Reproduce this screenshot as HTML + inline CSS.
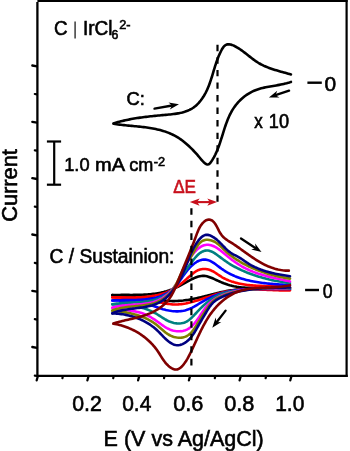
<!DOCTYPE html>
<html><head><meta charset="utf-8"><style>
html,body{margin:0;padding:0;background:#fff;}
body{width:350px;height:451px;overflow:hidden;}
svg{display:block;filter:blur(0.35px);}
text{font-family:"Liberation Sans",sans-serif;stroke-width:0.6px;}
</style></head><body>
<svg width="350" height="451" viewBox="0 0 350 451">
<line x1="37.4" y1="2" x2="37.4" y2="377" stroke="#000" stroke-width="2.3"/>
<line x1="37.4" y1="1" x2="347.6" y2="1" stroke="#000" stroke-width="2.2"/>
<line x1="346.6" y1="0" x2="346.6" y2="377" stroke="#000" stroke-width="2.2"/>
<line x1="36.3" y1="375.9" x2="347.7" y2="375.9" stroke="#000" stroke-width="2.2"/>
<line x1="37" y1="66.4" x2="32.3" y2="65.5" stroke="#000" stroke-width="2.3" stroke-linecap="round"/>
<line x1="37" y1="122.7" x2="32.3" y2="121.8" stroke="#000" stroke-width="2.3" stroke-linecap="round"/>
<line x1="37" y1="179.0" x2="32.3" y2="178.1" stroke="#000" stroke-width="2.3" stroke-linecap="round"/>
<line x1="37" y1="235.4" x2="32.3" y2="234.5" stroke="#000" stroke-width="2.3" stroke-linecap="round"/>
<line x1="37" y1="291.7" x2="32.3" y2="290.8" stroke="#000" stroke-width="2.3" stroke-linecap="round"/>
<line x1="37" y1="347.9" x2="32.3" y2="347.0" stroke="#000" stroke-width="2.3" stroke-linecap="round"/>
<line x1="37" y1="94.4" x2="34.8" y2="94.0" stroke="#000" stroke-width="2.2" stroke-linecap="round"/>
<line x1="37" y1="150.7" x2="34.8" y2="150.3" stroke="#000" stroke-width="2.2" stroke-linecap="round"/>
<line x1="37" y1="207.0" x2="34.8" y2="206.6" stroke="#000" stroke-width="2.2" stroke-linecap="round"/>
<line x1="37" y1="263.3" x2="34.8" y2="262.9" stroke="#000" stroke-width="2.2" stroke-linecap="round"/>
<line x1="37" y1="319.6" x2="34.8" y2="319.2" stroke="#000" stroke-width="2.2" stroke-linecap="round"/>
<line x1="37" y1="376.0" x2="34.8" y2="375.6" stroke="#000" stroke-width="2.2" stroke-linecap="round"/>
<line x1="37.9" y1="376" x2="36.7" y2="380.3" stroke="#000" stroke-width="2.3" stroke-linecap="round"/>
<line x1="88.6" y1="376" x2="87.4" y2="380.3" stroke="#000" stroke-width="2.3" stroke-linecap="round"/>
<line x1="139.3" y1="376" x2="138.1" y2="380.3" stroke="#000" stroke-width="2.3" stroke-linecap="round"/>
<line x1="190.1" y1="376" x2="188.9" y2="380.3" stroke="#000" stroke-width="2.3" stroke-linecap="round"/>
<line x1="240.8" y1="376" x2="239.6" y2="380.3" stroke="#000" stroke-width="2.3" stroke-linecap="round"/>
<line x1="291.5" y1="376" x2="290.3" y2="380.3" stroke="#000" stroke-width="2.3" stroke-linecap="round"/>
<line x1="62.9" y1="376" x2="62.4" y2="378.2" stroke="#000" stroke-width="2.2" stroke-linecap="round"/>
<line x1="113.7" y1="376" x2="113.2" y2="378.2" stroke="#000" stroke-width="2.2" stroke-linecap="round"/>
<line x1="164.5" y1="376" x2="164.0" y2="378.2" stroke="#000" stroke-width="2.2" stroke-linecap="round"/>
<line x1="215.3" y1="376" x2="214.8" y2="378.2" stroke="#000" stroke-width="2.2" stroke-linecap="round"/>
<line x1="266.1" y1="376" x2="265.6" y2="378.2" stroke="#000" stroke-width="2.2" stroke-linecap="round"/>
<line x1="217.5" y1="44.8" x2="217.5" y2="201.8" stroke="#000" stroke-width="2.2" stroke-dasharray="6.4 6.15"/>
<path d="M113.48,123.39 L114.96,122.94 L116.45,122.51 L117.93,122.10 L119.41,121.70 L120.89,121.32 L122.36,120.96 L123.84,120.61 L125.31,120.28 L126.78,119.96 L128.25,119.65 L129.72,119.36 L131.19,119.08 L132.66,118.81 L134.13,118.55 L135.60,118.31 L137.08,118.07 L138.55,117.85 L140.02,117.63 L141.50,117.42 L142.98,117.22 L144.46,117.03 L145.95,116.84 L147.43,116.67 L148.92,116.49 L150.42,116.33 L151.92,116.17 L153.42,116.01 L154.93,115.86 L156.44,115.71 L157.96,115.56 L159.48,115.42 L161.01,115.28 L162.54,115.14 L164.08,115.00 L165.63,114.86 L167.18,114.72 L168.74,114.57 L170.29,114.42 L171.85,114.25 L173.40,114.07 L174.94,113.87 L176.47,113.64 L177.99,113.38 L179.50,113.10 L180.99,112.78 L182.46,112.42 L183.91,112.02 L185.34,111.57 L186.73,111.07 L188.10,110.52 L189.44,109.92 L190.74,109.25 L192.00,108.52 L193.23,107.72 L194.42,106.86 L195.56,105.93 L196.67,104.95 L197.74,103.92 L198.77,102.84 L199.76,101.71 L200.71,100.54 L201.62,99.33 L202.49,98.09 L203.33,96.82 L204.13,95.52 L204.88,94.20 L205.61,92.86 L206.29,91.50 L206.95,90.12 L207.57,88.73 L208.17,87.32 L208.74,85.90 L209.28,84.48 L209.81,83.04 L210.31,81.59 L210.80,80.15 L211.27,78.69 L211.74,77.24 L212.19,75.78 L212.63,74.32 L213.07,72.87 L213.50,71.42 L213.94,69.98 L214.37,68.54 L214.81,67.11 L215.25,65.70 L215.70,64.29 L216.16,62.89 L216.64,61.49 L217.15,60.09 L217.68,58.69 L218.23,57.27 L218.82,55.85 L219.45,54.41 L220.13,52.95 L220.84,51.48 L221.61,49.98 L222.44,48.51 L223.34,47.16 L224.32,46.02 L225.39,45.16 L226.55,44.61 L227.78,44.34 L229.07,44.31 L230.41,44.50 L231.78,44.87 L233.18,45.39 L234.58,46.03 L235.97,46.77 L237.34,47.57 L238.68,48.40 L239.98,49.26 L241.26,50.14 L242.51,51.05 L243.75,51.96 L244.96,52.89 L246.17,53.83 L247.36,54.77 L248.54,55.71 L249.73,56.64 L250.91,57.57 L252.10,58.48 L253.29,59.38 L254.50,60.26 L255.72,61.12 L256.96,61.95 L258.22,62.75 L259.51,63.51 L260.82,64.24 L262.16,64.93 L263.52,65.59 L264.91,66.21 L266.31,66.81 L267.73,67.38 L269.16,67.93 L270.60,68.45 L272.06,68.95 L273.52,69.44 L274.99,69.90 L276.47,70.35 L277.94,70.79 L279.42,71.21 L280.89,71.63 L282.36,72.04 L283.82,72.44 L285.28,72.84 L286.72,73.24 L288.15,73.64 L289.56,74.04 L290.96,74.44" fill="none" stroke="#000" stroke-width="2.6" stroke-linecap="round" stroke-linejoin="round"/>
<path d="M290.95,81.90 L289.55,82.39 L288.13,82.83 L286.69,83.24 L285.23,83.61 L283.76,83.96 L282.28,84.29 L280.79,84.59 L279.29,84.88 L277.78,85.15 L276.26,85.41 L274.75,85.67 L273.22,85.93 L271.70,86.19 L270.18,86.45 L268.67,86.72 L267.15,87.01 L265.65,87.31 L264.15,87.63 L262.66,87.98 L261.19,88.35 L259.72,88.76 L258.28,89.20 L256.85,89.68 L255.43,90.21 L254.04,90.78 L252.67,91.40 L251.32,92.06 L250.00,92.78 L248.70,93.54 L247.43,94.34 L246.18,95.19 L244.96,96.07 L243.77,97.00 L242.61,97.96 L241.48,98.96 L240.38,100.00 L239.31,101.07 L238.27,102.17 L237.27,103.31 L236.31,104.47 L235.38,105.66 L234.49,106.88 L233.63,108.13 L232.82,109.39 L232.04,110.68 L231.30,111.99 L230.59,113.33 L229.91,114.68 L229.26,116.04 L228.64,117.43 L228.05,118.82 L227.47,120.23 L226.92,121.66 L226.39,123.09 L225.87,124.54 L225.37,125.99 L224.88,127.45 L224.40,128.91 L223.93,130.38 L223.47,131.85 L223.01,133.32 L222.55,134.80 L222.09,136.27 L221.63,137.74 L221.17,139.21 L220.70,140.67 L220.23,142.13 L219.74,143.58 L219.24,145.02 L218.73,146.45 L218.20,147.87 L217.65,149.27 L217.08,150.67 L216.49,152.04 L215.87,153.41 L215.23,154.75 L214.56,156.07 L213.86,157.38 L213.12,158.66 L212.35,159.92 L211.54,161.15 L210.70,162.36 L209.80,163.50 L208.79,164.31 L207.60,164.53 L206.30,164.16 L204.98,163.35 L203.70,162.23 L202.47,160.92 L201.30,159.54 L200.20,158.21 L199.16,156.97 L198.18,155.81 L197.23,154.72 L196.28,153.65 L195.33,152.61 L194.36,151.55 L193.36,150.50 L192.33,149.43 L191.27,148.37 L190.19,147.31 L189.08,146.26 L187.95,145.22 L186.80,144.19 L185.62,143.18 L184.43,142.19 L183.21,141.22 L181.98,140.28 L180.72,139.37 L179.45,138.50 L178.16,137.66 L176.86,136.87 L175.54,136.11 L174.21,135.40 L172.86,134.72 L171.50,134.08 L170.12,133.47 L168.73,132.90 L167.33,132.36 L165.92,131.85 L164.50,131.38 L163.07,130.93 L161.62,130.51 L160.17,130.11 L158.71,129.74 L157.24,129.40 L155.77,129.08 L154.28,128.77 L152.80,128.49 L151.30,128.23 L149.80,127.98 L148.29,127.75 L146.79,127.53 L145.27,127.33 L143.76,127.14 L142.24,126.96 L140.72,126.79 L139.19,126.62 L137.67,126.47 L136.15,126.32 L134.62,126.17 L133.10,126.02 L131.58,125.88 L130.06,125.74 L128.54,125.59 L127.03,125.45 L125.52,125.30 L124.01,125.14 L122.51,124.98 L121.02,124.81 L119.53,124.63 L118.04,124.44 L116.56,124.24 L115.09,124.03 L113.63,123.80" fill="none" stroke="#000" stroke-width="2.6" stroke-linecap="round" stroke-linejoin="round"/>
<path d="M112.30,295.09 L113.81,295.04 L115.32,295.00 L116.83,294.97 L118.34,294.94 L119.86,294.93 L121.38,294.92 L122.90,294.91 L124.42,294.91 L125.94,294.92 L127.46,294.92 L128.98,294.92 L130.50,294.93 L132.03,294.93 L133.55,294.92 L135.07,294.91 L136.59,294.90 L138.11,294.87 L139.63,294.84 L141.15,294.79 L142.67,294.74 L144.19,294.67 L145.70,294.58 L147.22,294.49 L148.73,294.37 L150.24,294.23 L151.74,294.08 L153.25,293.90 L154.75,293.71 L156.24,293.49 L157.74,293.24 L159.23,292.97 L160.72,292.67 L162.20,292.34 L163.67,291.99 L165.14,291.60 L166.60,291.19 L168.04,290.74 L169.48,290.27 L170.91,289.76 L172.32,289.22 L173.72,288.64 L175.11,288.03 L176.49,287.40 L177.86,286.74 L179.22,286.06 L180.57,285.35 L181.92,284.64 L183.27,283.90 L184.62,283.17 L185.97,282.42 L187.33,281.67 L188.69,280.92 L190.06,280.18 L191.44,279.45 L192.82,278.75 L194.21,278.10 L195.61,277.50 L197.01,276.98 L198.41,276.53 L199.82,276.19 L201.23,275.96 L202.64,275.86 L204.05,275.89 L205.47,276.05 L206.88,276.34 L208.29,276.72 L209.70,277.18 L211.12,277.72 L212.53,278.30 L213.94,278.93 L215.36,279.58 L216.77,280.23 L218.18,280.88 L219.59,281.50 L221.00,282.10 L222.42,282.68 L223.83,283.24 L225.25,283.76 L226.68,284.26 L228.11,284.73 L229.54,285.16 L230.99,285.55 L232.44,285.91 L233.90,286.24 L235.37,286.52 L236.85,286.78 L238.33,287.00 L239.82,287.19 L241.32,287.36 L242.82,287.49 L244.33,287.61 L245.84,287.70 L247.36,287.77 L248.88,287.81 L250.40,287.85 L251.93,287.86 L253.47,287.86 L255.00,287.85 L256.54,287.83 L258.07,287.80 L259.61,287.76 L261.15,287.71 L262.69,287.66 L264.23,287.61 L265.77,287.56 L267.31,287.51 L268.85,287.46 L270.38,287.42 L271.92,287.38 L273.45,287.35 L274.97,287.34 L276.50,287.33 L278.02,287.34 L279.53,287.36 L281.04,287.40 L282.55,287.46 L284.05,287.53 L285.54,287.63 L287.03,287.76 L288.50,287.91 L289.98,288.08" fill="none" stroke="#000000" stroke-width="2.6" stroke-linecap="round" stroke-linejoin="round"/>
<path d="M289.99,289.77 L288.49,289.79 L286.98,289.79 L285.47,289.78 L283.96,289.77 L282.44,289.75 L280.92,289.72 L279.41,289.69 L277.89,289.65 L276.37,289.61 L274.84,289.56 L273.32,289.52 L271.79,289.47 L270.27,289.41 L268.74,289.36 L267.22,289.31 L265.69,289.26 L264.16,289.22 L262.63,289.17 L261.10,289.13 L259.58,289.10 L258.05,289.07 L256.52,289.04 L254.99,289.03 L253.47,289.02 L251.94,289.02 L250.42,289.03 L248.89,289.05 L247.37,289.08 L245.85,289.12 L244.33,289.18 L242.81,289.24 L241.30,289.33 L239.78,289.43 L238.27,289.54 L236.76,289.67 L235.25,289.82 L233.75,289.99 L232.24,290.18 L230.74,290.39 L229.25,290.61 L227.75,290.86 L226.26,291.13 L224.77,291.42 L223.28,291.72 L221.80,292.03 L220.32,292.36 L218.83,292.70 L217.35,293.05 L215.88,293.41 L214.40,293.78 L212.92,294.15 L211.44,294.53 L209.97,294.90 L208.49,295.28 L207.01,295.66 L205.54,296.04 L204.06,296.42 L202.58,296.79 L201.10,297.15 L199.62,297.51 L198.14,297.86 L196.66,298.19 L195.17,298.52 L193.68,298.83 L192.19,299.12 L190.70,299.40 L189.21,299.66 L187.71,299.91 L186.21,300.13 L184.72,300.33 L183.21,300.52 L181.71,300.67 L180.21,300.81 L178.71,300.92 L177.20,301.01 L175.70,301.06 L174.19,301.10 L172.69,301.10 L171.19,301.07 L169.68,301.01 L168.18,300.93 L166.68,300.80 L165.18,300.65 L163.68,300.46 L162.18,300.24 L160.69,299.98 L159.19,299.70 L157.70,299.39 L156.20,299.07 L154.71,298.75 L153.21,298.42 L151.72,298.09 L150.22,297.77 L148.72,297.47 L147.22,297.19 L145.72,296.94 L144.21,296.72 L142.70,296.53 L141.19,296.38 L139.67,296.25 L138.16,296.15 L136.64,296.07 L135.11,296.01 L133.59,295.96 L132.07,295.93 L130.54,295.91 L129.02,295.89 L127.49,295.87 L125.97,295.85 L124.44,295.83 L122.92,295.80 L121.40,295.76 L119.87,295.71 L118.35,295.64 L116.84,295.55 L115.32,295.44 L113.81,295.30 L112.30,295.13" fill="none" stroke="#000000" stroke-width="2.6" stroke-linecap="round" stroke-linejoin="round"/>
<path d="M112.33,297.31 L113.79,297.32 L115.26,297.33 L116.74,297.35 L118.23,297.36 L119.73,297.39 L121.24,297.41 L122.75,297.43 L124.27,297.45 L125.79,297.46 L127.32,297.48 L128.85,297.49 L130.38,297.49 L131.92,297.48 L133.45,297.46 L134.99,297.44 L136.53,297.40 L138.07,297.35 L139.60,297.29 L141.14,297.21 L142.67,297.11 L144.19,297.00 L145.72,296.87 L147.24,296.72 L148.75,296.55 L150.25,296.35 L151.75,296.14 L153.25,295.89 L154.73,295.63 L156.20,295.33 L157.66,295.01 L159.12,294.65 L160.56,294.27 L161.99,293.85 L163.40,293.40 L164.81,292.92 L166.20,292.40 L167.57,291.84 L168.93,291.25 L170.27,290.61 L171.59,289.94 L172.90,289.22 L174.19,288.46 L175.46,287.66 L176.71,286.83 L177.95,285.96 L179.18,285.05 L180.40,284.12 L181.61,283.17 L182.82,282.19 L184.02,281.19 L185.21,280.17 L186.40,279.14 L187.59,278.09 L188.78,277.04 L189.98,275.98 L191.18,274.93 L192.39,273.92 L193.61,272.95 L194.85,272.05 L196.11,271.23 L197.40,270.52 L198.71,269.93 L200.05,269.47 L201.42,269.17 L202.81,269.00 L204.22,268.96 L205.64,269.05 L207.06,269.26 L208.48,269.59 L209.88,270.03 L211.27,270.57 L212.64,271.21 L213.97,271.94 L215.29,272.74 L216.59,273.59 L217.89,274.46 L219.18,275.34 L220.48,276.19 L221.79,277.01 L223.12,277.78 L224.46,278.49 L225.83,279.16 L227.20,279.78 L228.59,280.36 L229.99,280.89 L231.40,281.40 L232.83,281.86 L234.26,282.30 L235.70,282.70 L237.15,283.07 L238.61,283.41 L240.08,283.73 L241.56,284.02 L243.04,284.28 L244.53,284.52 L246.02,284.73 L247.53,284.92 L249.03,285.10 L250.55,285.25 L252.06,285.39 L253.58,285.51 L255.10,285.62 L256.63,285.71 L258.16,285.79 L259.69,285.86 L261.22,285.92 L262.76,285.97 L264.29,286.02 L265.82,286.06 L267.36,286.10 L268.89,286.13 L270.42,286.16 L271.95,286.19 L273.48,286.22 L275.00,286.26 L276.52,286.30 L278.04,286.34 L279.55,286.39 L281.06,286.45 L282.56,286.52 L284.06,286.59 L285.55,286.68 L287.03,286.79 L288.51,286.90 L289.98,287.04" fill="none" stroke="#ff0000" stroke-width="2.6" stroke-linecap="round" stroke-linejoin="round"/>
<path d="M289.98,290.35 L288.49,290.39 L287.00,290.41 L285.51,290.42 L284.01,290.42 L282.51,290.40 L281.01,290.38 L279.50,290.34 L277.99,290.30 L276.48,290.25 L274.96,290.19 L273.44,290.12 L271.92,290.06 L270.40,289.99 L268.88,289.91 L267.35,289.84 L265.82,289.77 L264.30,289.70 L262.77,289.63 L261.24,289.56 L259.71,289.50 L258.19,289.44 L256.66,289.39 L255.13,289.35 L253.60,289.32 L252.08,289.30 L250.55,289.29 L249.03,289.29 L247.51,289.31 L245.99,289.34 L244.47,289.38 L242.95,289.45 L241.44,289.53 L239.93,289.62 L238.42,289.74 L236.91,289.88 L235.41,290.05 L233.92,290.23 L232.42,290.44 L230.93,290.68 L229.45,290.94 L227.97,291.23 L226.49,291.54 L225.02,291.88 L223.55,292.24 L222.08,292.62 L220.62,293.02 L219.16,293.43 L217.70,293.86 L216.24,294.30 L214.79,294.75 L213.34,295.21 L211.89,295.68 L210.44,296.15 L208.99,296.63 L207.54,297.11 L206.10,297.59 L204.65,298.07 L203.20,298.55 L201.75,299.02 L200.31,299.49 L198.86,299.94 L197.41,300.39 L195.95,300.83 L194.50,301.25 L193.04,301.66 L191.59,302.05 L190.12,302.42 L188.66,302.78 L187.19,303.11 L185.73,303.41 L184.25,303.68 L182.78,303.92 L181.30,304.12 L179.82,304.29 L178.34,304.40 L176.86,304.47 L175.37,304.49 L173.89,304.46 L172.40,304.38 L170.91,304.25 L169.41,304.08 L167.92,303.87 L166.43,303.64 L164.94,303.38 L163.44,303.10 L161.95,302.80 L160.45,302.50 L158.96,302.20 L157.47,301.89 L155.98,301.59 L154.49,301.28 L152.99,300.98 L151.50,300.69 L150.01,300.40 L148.52,300.12 L147.02,299.85 L145.53,299.59 L144.03,299.34 L142.54,299.10 L141.04,298.88 L139.54,298.68 L138.04,298.49 L136.54,298.32 L135.04,298.17 L133.53,298.05 L132.03,297.94 L130.52,297.85 L129.01,297.78 L127.49,297.72 L125.98,297.68 L124.46,297.64 L122.95,297.61 L121.43,297.59 L119.91,297.57 L118.39,297.55 L116.87,297.53 L115.34,297.51 L113.82,297.48 L112.30,297.45" fill="none" stroke="#ff0000" stroke-width="2.6" stroke-linecap="round" stroke-linejoin="round"/>
<path d="M112.38,300.46 L113.77,300.39 L115.19,300.32 L116.62,300.27 L118.08,300.23 L119.55,300.20 L121.04,300.18 L122.55,300.16 L124.06,300.15 L125.59,300.14 L127.14,300.13 L128.69,300.12 L130.24,300.10 L131.81,300.08 L133.37,300.05 L134.95,300.01 L136.52,299.96 L138.09,299.90 L139.66,299.82 L141.23,299.73 L142.80,299.62 L144.36,299.48 L145.91,299.33 L147.45,299.15 L148.98,298.95 L150.51,298.71 L152.01,298.45 L153.51,298.16 L154.98,297.83 L156.44,297.46 L157.88,297.06 L159.30,296.62 L160.69,296.14 L162.07,295.62 L163.41,295.05 L164.74,294.44 L166.03,293.78 L167.29,293.06 L168.52,292.30 L169.72,291.48 L170.89,290.61 L172.02,289.67 L173.11,288.68 L174.16,287.63 L175.19,286.53 L176.18,285.39 L177.16,284.20 L178.11,282.98 L179.05,281.73 L179.98,280.46 L180.90,279.18 L181.81,277.88 L182.73,276.58 L183.65,275.28 L184.58,273.99 L185.53,272.71 L186.49,271.46 L187.47,270.22 L188.48,269.02 L189.52,267.86 L190.59,266.74 L191.70,265.66 L192.85,264.65 L194.05,263.69 L195.29,262.80 L196.59,261.98 L197.92,261.26 L199.28,260.65 L200.65,260.15 L202.04,259.79 L203.42,259.58 L204.80,259.53 L206.15,259.66 L207.49,259.95 L208.81,260.37 L210.11,260.92 L211.41,261.59 L212.70,262.34 L213.98,263.17 L215.25,264.05 L216.52,264.98 L217.79,265.94 L219.06,266.90 L220.33,267.86 L221.60,268.79 L222.89,269.68 L224.18,270.53 L225.48,271.35 L226.78,272.13 L228.10,272.88 L229.43,273.59 L230.76,274.27 L232.11,274.91 L233.47,275.53 L234.84,276.12 L236.23,276.68 L237.62,277.21 L239.03,277.72 L240.45,278.20 L241.89,278.66 L243.33,279.09 L244.78,279.50 L246.24,279.89 L247.71,280.26 L249.19,280.60 L250.68,280.93 L252.17,281.24 L253.67,281.53 L255.17,281.80 L256.68,282.05 L258.19,282.29 L259.71,282.52 L261.23,282.73 L262.75,282.92 L264.28,283.11 L265.81,283.28 L267.33,283.44 L268.86,283.59 L270.39,283.74 L271.92,283.87 L273.44,283.99 L274.96,284.11 L276.48,284.22 L278.00,284.33 L279.52,284.43 L281.02,284.53 L282.53,284.62 L284.03,284.71 L285.52,284.80 L287.01,284.89 L288.48,284.98 L289.95,285.07" fill="none" stroke="#0000ff" stroke-width="2.6" stroke-linecap="round" stroke-linejoin="round"/>
<path d="M289.96,288.95 L288.48,288.98 L287.00,289.00 L285.52,289.02 L284.03,289.03 L282.53,289.03 L281.03,289.03 L279.52,289.02 L278.01,289.01 L276.50,289.00 L274.98,288.98 L273.46,288.96 L271.94,288.95 L270.42,288.93 L268.89,288.91 L267.36,288.89 L265.83,288.88 L264.29,288.87 L262.76,288.87 L261.23,288.87 L259.69,288.87 L258.16,288.88 L256.62,288.90 L255.09,288.93 L253.55,288.97 L252.02,289.01 L250.49,289.07 L248.96,289.14 L247.43,289.22 L245.91,289.31 L244.38,289.42 L242.86,289.54 L241.35,289.67 L239.83,289.83 L238.33,289.99 L236.82,290.18 L235.32,290.39 L233.83,290.61 L232.33,290.86 L230.85,291.12 L229.37,291.41 L227.90,291.72 L226.43,292.05 L224.97,292.41 L223.52,292.79 L222.07,293.20 L220.63,293.64 L219.20,294.10 L217.78,294.59 L216.36,295.10 L214.96,295.64 L213.56,296.21 L212.16,296.81 L210.78,297.42 L209.40,298.07 L208.02,298.73 L206.66,299.42 L205.30,300.14 L203.95,300.87 L202.60,301.63 L201.26,302.41 L199.92,303.20 L198.58,304.01 L197.25,304.81 L195.92,305.60 L194.58,306.37 L193.23,307.10 L191.88,307.80 L190.52,308.46 L189.15,309.05 L187.77,309.58 L186.37,310.03 L184.96,310.42 L183.53,310.73 L182.10,310.98 L180.65,311.16 L179.20,311.28 L177.74,311.35 L176.27,311.35 L174.80,311.30 L173.32,311.19 L171.84,311.04 L170.36,310.83 L168.88,310.58 L167.39,310.29 L165.91,309.95 L164.44,309.57 L162.96,309.16 L161.50,308.71 L160.03,308.24 L158.57,307.75 L157.11,307.24 L155.65,306.73 L154.19,306.23 L152.73,305.73 L151.27,305.25 L149.81,304.79 L148.35,304.36 L146.88,303.95 L145.42,303.58 L143.95,303.23 L142.48,302.91 L141.00,302.61 L139.53,302.34 L138.05,302.09 L136.56,301.86 L135.08,301.66 L133.59,301.47 L132.10,301.31 L130.60,301.16 L129.10,301.03 L127.59,300.92 L126.09,300.82 L124.57,300.74 L123.06,300.68 L121.53,300.63 L120.01,300.59 L118.47,300.56 L116.94,300.54 L115.39,300.54 L113.85,300.54 L112.29,300.55" fill="none" stroke="#0000ff" stroke-width="2.6" stroke-linecap="round" stroke-linejoin="round"/>
<path d="M112.31,304.30 L113.77,304.05 L115.24,303.82 L116.73,303.62 L118.22,303.45 L119.72,303.30 L121.22,303.17 L122.74,303.06 L124.26,302.96 L125.78,302.88 L127.31,302.80 L128.84,302.73 L130.38,302.66 L131.91,302.60 L133.45,302.53 L134.98,302.46 L136.52,302.37 L138.05,302.28 L139.58,302.18 L141.10,302.06 L142.62,301.92 L144.14,301.76 L145.64,301.58 L147.15,301.37 L148.64,301.12 L150.12,300.85 L151.59,300.54 L153.06,300.20 L154.51,299.81 L155.94,299.38 L157.37,298.91 L158.78,298.38 L160.17,297.81 L161.55,297.18 L162.90,296.49 L164.24,295.76 L165.54,294.97 L166.81,294.13 L168.05,293.25 L169.25,292.31 L170.40,291.32 L171.51,290.29 L172.57,289.20 L173.57,288.07 L174.52,286.90 L175.44,285.69 L176.31,284.46 L177.16,283.21 L177.99,281.94 L178.81,280.66 L179.62,279.39 L180.43,278.12 L181.24,276.86 L182.06,275.61 L182.90,274.37 L183.73,273.13 L184.58,271.90 L185.44,270.67 L186.31,269.44 L187.19,268.22 L188.08,266.99 L188.98,265.76 L189.90,264.52 L190.84,263.28 L191.79,262.04 L192.75,260.78 L193.74,259.52 L194.74,258.26 L195.77,257.03 L196.83,255.84 L197.92,254.73 L199.05,253.71 L200.23,252.81 L201.44,252.04 L202.70,251.41 L203.97,250.93 L205.28,250.61 L206.59,250.47 L207.92,250.52 L209.25,250.75 L210.58,251.16 L211.91,251.71 L213.24,252.39 L214.56,253.18 L215.88,254.04 L217.19,254.97 L218.49,255.93 L219.78,256.91 L221.06,257.88 L222.33,258.83 L223.59,259.77 L224.85,260.67 L226.12,261.55 L227.38,262.41 L228.65,263.23 L229.93,264.03 L231.21,264.80 L232.50,265.55 L233.80,266.29 L235.11,267.00 L236.43,267.70 L237.76,268.38 L239.10,269.04 L240.46,269.69 L241.82,270.32 L243.19,270.93 L244.58,271.53 L245.97,272.11 L247.37,272.68 L248.78,273.23 L250.19,273.77 L251.62,274.29 L253.05,274.79 L254.49,275.29 L255.93,275.76 L257.38,276.23 L258.83,276.67 L260.30,277.11 L261.76,277.53 L263.23,277.94 L264.70,278.33 L266.18,278.71 L267.66,279.08 L269.14,279.44 L270.63,279.78 L272.12,280.11 L273.61,280.42 L275.10,280.73 L276.59,281.02 L278.08,281.30 L279.57,281.57 L281.06,281.83 L282.56,282.08 L284.05,282.31 L285.54,282.53 L287.02,282.75 L288.51,282.95 L289.99,283.14" fill="none" stroke="#008080" stroke-width="2.6" stroke-linecap="round" stroke-linejoin="round"/>
<path d="M290.01,288.52 L288.44,288.45 L286.88,288.40 L285.33,288.35 L283.79,288.31 L282.25,288.27 L280.72,288.25 L279.20,288.24 L277.68,288.23 L276.17,288.24 L274.67,288.25 L273.17,288.27 L271.67,288.30 L270.17,288.33 L268.68,288.38 L267.19,288.43 L265.70,288.48 L264.21,288.55 L262.73,288.62 L261.24,288.69 L259.75,288.77 L258.26,288.86 L256.76,288.96 L255.26,289.06 L253.76,289.16 L252.26,289.27 L250.75,289.38 L249.23,289.50 L247.71,289.63 L246.19,289.76 L244.65,289.89 L243.11,290.02 L241.56,290.17 L240.01,290.32 L238.46,290.48 L236.91,290.66 L235.36,290.86 L233.82,291.07 L232.28,291.31 L230.76,291.57 L229.24,291.86 L227.74,292.18 L226.26,292.54 L224.79,292.92 L223.35,293.35 L221.93,293.81 L220.53,294.32 L219.16,294.88 L217.81,295.48 L216.49,296.12 L215.20,296.81 L213.93,297.54 L212.68,298.31 L211.45,299.11 L210.24,299.96 L209.05,300.83 L207.88,301.74 L206.72,302.69 L205.57,303.66 L204.44,304.66 L203.33,305.69 L202.22,306.74 L201.12,307.82 L200.03,308.92 L198.94,310.04 L197.87,311.17 L196.79,312.33 L195.72,313.50 L194.64,314.66 L193.56,315.81 L192.46,316.93 L191.35,318.00 L190.21,319.02 L189.04,319.95 L187.83,320.80 L186.59,321.55 L185.30,322.18 L183.97,322.67 L182.59,323.05 L181.18,323.31 L179.75,323.45 L178.29,323.48 L176.83,323.40 L175.35,323.22 L173.88,322.94 L172.41,322.57 L170.95,322.11 L169.52,321.57 L168.12,320.95 L166.74,320.25 L165.38,319.50 L164.05,318.70 L162.73,317.87 L161.42,317.02 L160.11,316.17 L158.81,315.33 L157.49,314.51 L156.17,313.72 L154.84,312.98 L153.50,312.28 L152.15,311.61 L150.79,310.98 L149.41,310.39 L148.03,309.83 L146.63,309.30 L145.23,308.81 L143.82,308.35 L142.40,307.93 L140.96,307.53 L139.52,307.16 L138.07,306.82 L136.62,306.51 L135.15,306.22 L133.67,305.96 L132.19,305.72 L130.70,305.50 L129.20,305.31 L127.70,305.14 L126.19,304.98 L124.67,304.85 L123.14,304.73 L121.60,304.64 L120.07,304.55 L118.52,304.48 L116.97,304.43 L115.41,304.39 L113.84,304.36 L112.27,304.34" fill="none" stroke="#008080" stroke-width="2.6" stroke-linecap="round" stroke-linejoin="round"/>
<path d="M112.31,307.70 L113.74,307.29 L115.19,306.93 L116.65,306.60 L118.13,306.31 L119.61,306.06 L121.11,305.84 L122.62,305.65 L124.13,305.48 L125.66,305.33 L127.18,305.19 L128.72,305.07 L130.26,304.96 L131.79,304.86 L133.34,304.76 L134.88,304.66 L136.42,304.56 L137.95,304.45 L139.49,304.32 L141.01,304.19 L142.54,304.03 L144.05,303.85 L145.56,303.65 L147.06,303.42 L148.55,303.16 L150.02,302.86 L151.48,302.52 L152.93,302.14 L154.36,301.71 L155.78,301.24 L157.17,300.71 L158.55,300.13 L159.91,299.48 L161.25,298.77 L162.56,298.00 L163.85,297.18 L165.10,296.30 L166.33,295.37 L167.52,294.39 L168.67,293.37 L169.79,292.31 L170.86,291.22 L171.89,290.09 L172.87,288.92 L173.81,287.73 L174.70,286.52 L175.55,285.28 L176.36,284.02 L177.14,282.74 L177.89,281.45 L178.61,280.13 L179.31,278.81 L179.99,277.47 L180.66,276.12 L181.31,274.77 L181.96,273.41 L182.60,272.04 L183.24,270.68 L183.89,269.31 L184.55,267.94 L185.21,266.58 L185.89,265.23 L186.59,263.88 L187.32,262.54 L188.06,261.21 L188.84,259.90 L189.65,258.61 L190.50,257.33 L191.39,256.07 L192.33,254.83 L193.31,253.61 L194.34,252.42 L195.42,251.27 L196.55,250.16 L197.71,249.10 L198.91,248.10 L200.15,247.19 L201.42,246.39 L202.73,245.73 L204.07,245.23 L205.43,244.92 L206.82,244.78 L208.22,244.80 L209.63,244.97 L211.03,245.28 L212.41,245.71 L213.77,246.26 L215.11,246.91 L216.41,247.65 L217.69,248.47 L218.95,249.35 L220.20,250.29 L221.43,251.26 L222.65,252.26 L223.86,253.27 L225.08,254.29 L226.29,255.29 L227.50,256.28 L228.72,257.26 L229.94,258.22 L231.16,259.16 L232.39,260.09 L233.63,261.00 L234.87,261.89 L236.12,262.75 L237.38,263.60 L238.64,264.43 L239.92,265.23 L241.21,266.01 L242.51,266.76 L243.82,267.49 L245.15,268.19 L246.48,268.86 L247.84,269.51 L249.20,270.14 L250.58,270.74 L251.97,271.31 L253.36,271.87 L254.77,272.40 L256.19,272.91 L257.62,273.40 L259.05,273.88 L260.50,274.34 L261.95,274.78 L263.41,275.21 L264.87,275.62 L266.34,276.02 L267.81,276.40 L269.28,276.78 L270.76,277.15 L272.25,277.50 L273.73,277.85 L275.22,278.19 L276.70,278.53 L278.19,278.85 L279.68,279.18 L281.16,279.50 L282.64,279.82 L284.13,280.14 L285.60,280.46 L287.08,280.78 L288.55,281.10 L290.02,281.42" fill="none" stroke="#ff00ff" stroke-width="2.6" stroke-linecap="round" stroke-linejoin="round"/>
<path d="M289.92,287.96 L288.48,288.03 L287.02,288.09 L285.56,288.14 L284.09,288.19 L282.61,288.23 L281.12,288.26 L279.62,288.29 L278.11,288.31 L276.60,288.33 L275.08,288.35 L273.56,288.37 L272.03,288.39 L270.50,288.41 L268.96,288.43 L267.42,288.46 L265.88,288.49 L264.33,288.52 L262.78,288.56 L261.23,288.61 L259.68,288.66 L258.13,288.72 L256.59,288.79 L255.04,288.88 L253.49,288.97 L251.95,289.08 L250.40,289.20 L248.87,289.33 L247.33,289.48 L245.80,289.65 L244.27,289.83 L242.75,290.03 L241.24,290.25 L239.73,290.49 L238.23,290.75 L236.74,291.03 L235.25,291.34 L233.77,291.67 L232.31,292.02 L230.85,292.41 L229.40,292.81 L227.97,293.25 L226.54,293.71 L225.13,294.21 L223.73,294.73 L222.34,295.28 L220.97,295.87 L219.61,296.49 L218.27,297.15 L216.95,297.85 L215.65,298.59 L214.40,299.38 L213.18,300.22 L212.01,301.11 L210.87,302.05 L209.77,303.04 L208.70,304.08 L207.68,305.16 L206.68,306.28 L205.72,307.45 L204.80,308.65 L203.90,309.89 L203.02,311.16 L202.16,312.46 L201.30,313.76 L200.44,315.08 L199.58,316.41 L198.70,317.73 L197.79,319.04 L196.86,320.34 L195.90,321.61 L194.91,322.84 L193.88,324.02 L192.82,325.15 L191.72,326.21 L190.58,327.19 L189.40,328.08 L188.17,328.88 L186.90,329.57 L185.58,330.14 L184.21,330.59 L182.81,330.93 L181.39,331.16 L179.93,331.29 L178.47,331.31 L176.99,331.23 L175.51,331.05 L174.03,330.77 L172.57,330.41 L171.12,329.95 L169.69,329.41 L168.30,328.78 L166.94,328.08 L165.61,327.31 L164.30,326.49 L163.01,325.62 L161.73,324.72 L160.47,323.81 L159.22,322.89 L157.97,321.97 L156.71,321.07 L155.46,320.19 L154.19,319.34 L152.92,318.52 L151.63,317.74 L150.34,316.98 L149.03,316.26 L147.71,315.58 L146.38,314.94 L145.02,314.34 L143.65,313.78 L142.26,313.26 L140.84,312.80 L139.41,312.38 L137.95,312.00 L136.47,311.67 L134.97,311.37 L133.46,311.11 L131.94,310.87 L130.40,310.65 L128.87,310.44 L127.32,310.25 L125.78,310.06 L124.24,309.87 L122.70,309.67 L121.17,309.47 L119.65,309.25 L118.14,309.00 L116.65,308.74 L115.18,308.44 L113.72,308.10 L112.29,307.73" fill="none" stroke="#ff00ff" stroke-width="2.6" stroke-linecap="round" stroke-linejoin="round"/>
<path d="M112.31,310.59 L113.71,310.04 L115.12,309.55 L116.56,309.10 L118.01,308.71 L119.48,308.35 L120.96,308.03 L122.45,307.75 L123.95,307.50 L125.46,307.28 L126.98,307.08 L128.51,306.90 L130.04,306.73 L131.57,306.58 L133.11,306.43 L134.65,306.29 L136.19,306.15 L137.73,306.01 L139.26,305.86 L140.79,305.70 L142.31,305.52 L143.83,305.33 L145.33,305.11 L146.83,304.87 L148.32,304.60 L149.79,304.30 L151.25,303.95 L152.69,303.57 L154.12,303.14 L155.53,302.66 L156.91,302.13 L158.28,301.54 L159.62,300.90 L160.95,300.18 L162.24,299.41 L163.50,298.58 L164.74,297.69 L165.94,296.74 L167.11,295.75 L168.24,294.71 L169.33,293.62 L170.37,292.49 L171.37,291.32 L172.33,290.12 L173.23,288.88 L174.09,287.61 L174.90,286.31 L175.68,284.99 L176.41,283.65 L177.12,282.29 L177.80,280.92 L178.47,279.54 L179.11,278.15 L179.74,276.76 L180.37,275.37 L180.99,273.98 L181.61,272.60 L182.24,271.23 L182.88,269.87 L183.54,268.52 L184.21,267.20 L184.91,265.90 L185.64,264.62 L186.40,263.38 L187.20,262.15 L188.01,260.95 L188.85,259.74 L189.69,258.51 L190.54,257.27 L191.39,255.99 L192.22,254.66 L193.04,253.27 L193.85,251.84 L194.66,250.40 L195.48,248.97 L196.32,247.56 L197.19,246.21 L198.10,244.92 L199.05,243.73 L200.07,242.66 L201.15,241.73 L202.30,240.96 L203.54,240.38 L204.87,239.99 L206.27,239.80 L207.72,239.79 L209.20,239.95 L210.67,240.25 L212.13,240.70 L213.53,241.28 L214.88,241.96 L216.16,242.75 L217.40,243.62 L218.59,244.56 L219.75,245.56 L220.89,246.60 L222.00,247.66 L223.12,248.74 L224.23,249.83 L225.35,250.89 L226.50,251.94 L227.66,252.95 L228.83,253.94 L230.03,254.90 L231.24,255.84 L232.46,256.76 L233.70,257.65 L234.96,258.51 L236.22,259.36 L237.50,260.18 L238.80,260.98 L240.10,261.76 L241.41,262.53 L242.73,263.27 L244.07,263.99 L245.40,264.70 L246.75,265.38 L248.11,266.05 L249.47,266.71 L250.84,267.34 L252.22,267.96 L253.60,268.56 L254.99,269.15 L256.39,269.72 L257.79,270.27 L259.20,270.81 L260.62,271.33 L262.04,271.84 L263.47,272.32 L264.90,272.80 L266.34,273.26 L267.78,273.70 L269.24,274.13 L270.69,274.54 L272.15,274.94 L273.62,275.32 L275.09,275.69 L276.56,276.04 L278.04,276.38 L279.53,276.71 L281.02,277.02 L282.51,277.32 L284.01,277.60 L285.51,277.87 L287.01,278.13 L288.52,278.37 L290.03,278.60" fill="none" stroke="#808000" stroke-width="2.6" stroke-linecap="round" stroke-linejoin="round"/>
<path d="M290.01,287.81 L288.47,287.83 L286.93,287.84 L285.39,287.85 L283.86,287.87 L282.33,287.88 L280.81,287.90 L279.29,287.92 L277.77,287.94 L276.25,287.96 L274.73,287.99 L273.22,288.02 L271.71,288.06 L270.20,288.10 L268.69,288.15 L267.18,288.21 L265.67,288.27 L264.17,288.34 L262.66,288.42 L261.16,288.50 L259.65,288.60 L258.14,288.71 L256.64,288.82 L255.13,288.95 L253.63,289.09 L252.12,289.24 L250.61,289.41 L249.10,289.58 L247.59,289.78 L246.08,289.98 L244.57,290.20 L243.05,290.44 L241.53,290.69 L240.02,290.96 L238.50,291.25 L236.99,291.56 L235.49,291.88 L233.99,292.23 L232.50,292.60 L231.02,293.00 L229.55,293.41 L228.09,293.86 L226.64,294.32 L225.21,294.82 L223.79,295.34 L222.39,295.89 L221.01,296.47 L219.64,297.08 L218.31,297.73 L217.00,298.42 L215.75,299.19 L214.56,300.04 L213.42,300.97 L212.35,301.98 L211.32,303.05 L210.34,304.17 L209.40,305.34 L208.50,306.54 L207.62,307.76 L206.76,308.99 L205.91,310.23 L205.08,311.46 L204.26,312.70 L203.45,313.94 L202.65,315.19 L201.85,316.45 L201.05,317.73 L200.24,319.02 L199.44,320.34 L198.63,321.68 L197.81,323.04 L196.98,324.42 L196.13,325.81 L195.26,327.19 L194.37,328.54 L193.44,329.85 L192.47,331.10 L191.46,332.28 L190.41,333.38 L189.30,334.38 L188.14,335.26 L186.92,336.01 L185.63,336.62 L184.28,337.09 L182.89,337.43 L181.46,337.64 L180.00,337.73 L178.52,337.69 L177.03,337.55 L175.54,337.29 L174.06,336.92 L172.60,336.46 L171.17,335.89 L169.77,335.24 L168.42,334.50 L167.12,333.68 L165.87,332.79 L164.65,331.85 L163.47,330.86 L162.30,329.85 L161.14,328.82 L159.99,327.78 L158.83,326.76 L157.67,325.77 L156.47,324.81 L155.26,323.89 L154.02,323.01 L152.76,322.17 L151.48,321.37 L150.18,320.61 L148.86,319.89 L147.52,319.20 L146.17,318.54 L144.80,317.92 L143.41,317.33 L142.00,316.77 L140.59,316.24 L139.16,315.74 L137.72,315.27 L136.27,314.83 L134.80,314.41 L133.33,314.02 L131.85,313.65 L130.37,313.31 L128.87,312.99 L127.37,312.69 L125.87,312.40 L124.36,312.14 L122.85,311.90 L121.34,311.67 L119.83,311.46 L118.32,311.27 L116.81,311.08 L115.30,310.92 L113.79,310.76 L112.29,310.61" fill="none" stroke="#808000" stroke-width="2.6" stroke-linecap="round" stroke-linejoin="round"/>
<path d="M112.30,313.33 L113.67,312.76 L115.06,312.25 L116.47,311.78 L117.91,311.35 L119.36,310.97 L120.82,310.61 L122.30,310.29 L123.80,310.00 L125.30,309.73 L126.82,309.48 L128.34,309.25 L129.86,309.04 L131.40,308.83 L132.93,308.64 L134.47,308.45 L136.00,308.25 L137.54,308.06 L139.07,307.86 L140.59,307.65 L142.11,307.43 L143.62,307.19 L145.12,306.93 L146.60,306.65 L148.08,306.34 L149.53,306.00 L150.98,305.63 L152.40,305.22 L153.80,304.77 L155.18,304.27 L156.54,303.73 L157.88,303.14 L159.18,302.50 L160.46,301.79 L161.71,301.03 L162.93,300.22 L164.12,299.35 L165.29,298.43 L166.43,297.46 L167.53,296.45 L168.61,295.40 L169.67,294.30 L170.69,293.17 L171.69,292.00 L172.66,290.80 L173.60,289.57 L174.52,288.31 L175.41,287.03 L176.27,285.72 L177.11,284.39 L177.92,283.05 L178.71,281.69 L179.47,280.32 L180.20,278.93 L180.91,277.54 L181.59,276.15 L182.25,274.75 L182.88,273.35 L183.49,271.95 L184.08,270.55 L184.66,269.15 L185.22,267.75 L185.77,266.36 L186.32,264.96 L186.86,263.57 L187.40,262.18 L187.95,260.79 L188.49,259.41 L189.05,258.03 L189.62,256.66 L190.20,255.29 L190.79,253.92 L191.41,252.56 L192.05,251.21 L192.72,249.86 L193.41,248.52 L194.13,247.19 L194.89,245.87 L195.69,244.55 L196.53,243.24 L197.41,241.94 L198.34,240.66 L199.31,239.42 L200.34,238.27 L201.41,237.23 L202.54,236.33 L203.72,235.61 L204.95,235.10 L206.25,234.83 L207.60,234.84 L209.00,235.11 L210.41,235.60 L211.82,236.27 L213.19,237.06 L214.51,237.93 L215.76,238.87 L216.97,239.86 L218.14,240.90 L219.27,241.97 L220.37,243.07 L221.46,244.18 L222.53,245.31 L223.60,246.42 L224.67,247.52 L225.75,248.60 L226.85,249.65 L227.98,250.65 L229.13,251.59 L230.33,252.47 L231.57,253.29 L232.85,254.05 L234.15,254.77 L235.47,255.48 L236.80,256.18 L238.13,256.89 L239.44,257.64 L240.73,258.43 L242.01,259.26 L243.27,260.13 L244.53,261.00 L245.79,261.87 L247.05,262.72 L248.34,263.54 L249.64,264.33 L250.95,265.08 L252.28,265.80 L253.62,266.49 L254.98,267.15 L256.35,267.77 L257.74,268.37 L259.13,268.94 L260.54,269.49 L261.96,270.00 L263.38,270.50 L264.82,270.97 L266.26,271.41 L267.72,271.84 L269.17,272.24 L270.64,272.62 L272.11,272.99 L273.59,273.34 L275.07,273.67 L276.56,273.98 L278.05,274.28 L279.54,274.56 L281.04,274.83 L282.53,275.09 L284.03,275.34 L285.53,275.58 L287.02,275.81 L288.52,276.03 L290.01,276.25" fill="none" stroke="#000080" stroke-width="2.6" stroke-linecap="round" stroke-linejoin="round"/>
<path d="M289.96,287.50 L288.49,287.53 L287.01,287.56 L285.53,287.59 L284.04,287.61 L282.54,287.64 L281.04,287.66 L279.53,287.69 L278.02,287.72 L276.51,287.76 L274.99,287.80 L273.47,287.84 L271.95,287.88 L270.42,287.94 L268.90,288.00 L267.37,288.06 L265.84,288.14 L264.31,288.22 L262.78,288.31 L261.25,288.41 L259.72,288.52 L258.19,288.64 L256.66,288.78 L255.14,288.92 L253.61,289.08 L252.09,289.26 L250.57,289.44 L249.06,289.65 L247.55,289.86 L246.04,290.10 L244.54,290.35 L243.05,290.62 L241.55,290.91 L240.07,291.22 L238.59,291.54 L237.12,291.89 L235.65,292.26 L234.19,292.65 L232.74,293.06 L231.30,293.50 L229.87,293.96 L228.45,294.44 L227.03,294.95 L225.63,295.49 L224.23,296.05 L222.85,296.64 L221.48,297.26 L220.12,297.90 L218.77,298.58 L217.45,299.30 L216.18,300.08 L214.98,300.94 L213.86,301.89 L212.80,302.92 L211.81,304.01 L210.87,305.16 L209.98,306.36 L209.13,307.60 L208.31,308.86 L207.51,310.15 L206.72,311.44 L205.94,312.73 L205.17,314.02 L204.40,315.30 L203.63,316.59 L202.87,317.88 L202.11,319.17 L201.34,320.46 L200.58,321.77 L199.83,323.08 L199.07,324.40 L198.31,325.74 L197.55,327.09 L196.78,328.45 L196.00,329.81 L195.21,331.16 L194.40,332.50 L193.55,333.82 L192.68,335.10 L191.77,336.36 L190.81,337.56 L189.81,338.72 L188.75,339.82 L187.63,340.85 L186.45,341.81 L185.21,342.68 L183.91,343.45 L182.57,344.11 L181.20,344.63 L179.80,345.00 L178.39,345.21 L176.99,345.23 L175.59,345.06 L174.20,344.69 L172.84,344.15 L171.51,343.46 L170.22,342.65 L168.96,341.75 L167.75,340.79 L166.58,339.79 L165.45,338.74 L164.34,337.67 L163.26,336.58 L162.20,335.47 L161.14,334.36 L160.08,333.25 L159.01,332.15 L157.92,331.08 L156.82,330.03 L155.69,329.01 L154.53,328.03 L153.34,327.08 L152.13,326.17 L150.90,325.28 L149.65,324.43 L148.37,323.62 L147.07,322.83 L145.75,322.08 L144.42,321.36 L143.06,320.68 L141.69,320.02 L140.31,319.40 L138.91,318.81 L137.49,318.25 L136.07,317.72 L134.63,317.22 L133.18,316.75 L131.72,316.32 L130.25,315.91 L128.78,315.54 L127.29,315.19 L125.81,314.88 L124.31,314.59 L122.82,314.33 L121.32,314.11 L119.82,313.91 L118.31,313.74 L116.81,313.60 L115.31,313.49 L113.81,313.41 L112.32,313.36" fill="none" stroke="#000080" stroke-width="2.6" stroke-linecap="round" stroke-linejoin="round"/>
<path d="M113.50,323.50 L114.94,323.04 L116.40,322.61 L117.85,322.19 L119.32,321.80 L120.78,321.42 L122.25,321.05 L123.72,320.70 L125.20,320.35 L126.67,320.01 L128.15,319.67 L129.62,319.33 L131.10,319.00 L132.57,318.65 L134.05,318.31 L135.51,317.95 L136.98,317.58 L138.44,317.20 L139.90,316.80 L141.35,316.38 L142.80,315.94 L144.24,315.47 L145.67,314.98 L147.10,314.46 L148.51,313.91 L149.92,313.33 L151.31,312.71 L152.69,312.06 L154.05,311.37 L155.40,310.65 L156.72,309.89 L158.01,309.10 L159.28,308.27 L160.52,307.40 L161.72,306.49 L162.89,305.55 L164.03,304.57 L165.12,303.55 L166.18,302.48 L167.19,301.38 L168.15,300.24 L169.06,299.05 L169.93,297.83 L170.75,296.57 L171.54,295.28 L172.28,293.96 L173.00,292.62 L173.68,291.25 L174.34,289.86 L174.98,288.46 L175.59,287.05 L176.19,285.63 L176.78,284.20 L177.36,282.77 L177.93,281.34 L178.50,279.92 L179.07,278.50 L179.64,277.09 L180.21,275.68 L180.78,274.28 L181.35,272.89 L181.92,271.50 L182.49,270.11 L183.05,268.73 L183.62,267.35 L184.19,265.97 L184.76,264.59 L185.33,263.22 L185.89,261.84 L186.46,260.46 L187.03,259.08 L187.59,257.70 L188.15,256.32 L188.72,254.93 L189.28,253.54 L189.84,252.15 L190.40,250.75 L190.96,249.34 L191.52,247.93 L192.08,246.52 L192.63,245.09 L193.18,243.66 L193.74,242.22 L194.29,240.77 L194.84,239.31 L195.38,237.84 L195.93,236.36 L196.48,234.87 L197.03,233.38 L197.61,231.91 L198.21,230.46 L198.85,229.05 L199.54,227.67 L200.28,226.35 L201.08,225.10 L201.96,223.92 L202.91,222.82 L203.96,221.82 L205.10,220.92 L206.32,220.18 L207.60,219.67 L208.90,219.50 L210.18,219.69 L211.42,220.20 L212.58,220.96 L213.63,221.91 L214.58,223.02 L215.45,224.25 L216.25,225.58 L217.01,226.99 L217.75,228.44 L218.49,229.90 L219.24,231.35 L220.02,232.76 L220.86,234.10 L221.78,235.35 L222.77,236.49 L223.84,237.53 L224.98,238.49 L226.16,239.38 L227.38,240.23 L228.63,241.04 L229.90,241.84 L231.17,242.64 L232.44,243.44 L233.70,244.27 L234.95,245.11 L236.20,245.95 L237.45,246.81 L238.69,247.68 L239.93,248.56 L241.16,249.44 L242.40,250.32 L243.63,251.21 L244.87,252.10 L246.10,252.98 L247.34,253.86 L248.57,254.74 L249.82,255.61 L251.06,256.48 L252.31,257.33 L253.56,258.17 L254.82,259.00 L256.09,259.81 L257.37,260.61 L258.65,261.39 L259.94,262.15 L261.25,262.89 L262.56,263.61 L263.88,264.30 L265.22,264.97 L266.57,265.60 L267.93,266.21 L269.31,266.79 L270.70,267.33 L272.11,267.84 L273.53,268.31 L274.97,268.75 L276.43,269.14 L277.91,269.49 L279.41,269.80 L280.93,270.07 L282.46,270.29 L284.03,270.46 L285.61,270.58 L287.22,270.65 L288.85,270.67" fill="none" stroke="#800000" stroke-width="2.6" stroke-linecap="round" stroke-linejoin="round"/>
<path d="M290.00,285.17 L288.53,285.52 L287.06,285.83 L285.58,286.10 L284.09,286.34 L282.60,286.55 L281.10,286.73 L279.59,286.89 L278.08,287.03 L276.57,287.15 L275.05,287.24 L273.53,287.33 L272.01,287.40 L270.49,287.47 L268.96,287.52 L267.44,287.58 L265.91,287.63 L264.39,287.68 L262.86,287.74 L261.34,287.80 L259.82,287.87 L258.31,287.95 L256.79,288.05 L255.29,288.16 L253.78,288.30 L252.29,288.45 L250.80,288.63 L249.31,288.83 L247.83,289.07 L246.36,289.33 L244.90,289.63 L243.45,289.97 L242.01,290.35 L240.57,290.77 L239.15,291.23 L237.74,291.75 L236.34,292.31 L234.96,292.92 L233.59,293.57 L232.23,294.27 L230.90,295.01 L229.58,295.78 L228.28,296.60 L227.01,297.45 L225.75,298.34 L224.52,299.25 L223.32,300.20 L222.14,301.17 L220.99,302.18 L219.87,303.20 L218.78,304.25 L217.72,305.32 L216.69,306.41 L215.68,307.53 L214.70,308.66 L213.75,309.81 L212.82,310.98 L211.91,312.17 L211.02,313.38 L210.16,314.60 L209.32,315.84 L208.49,317.09 L207.69,318.35 L206.90,319.63 L206.13,320.92 L205.37,322.22 L204.63,323.53 L203.90,324.85 L203.19,326.18 L202.48,327.52 L201.79,328.87 L201.11,330.22 L200.44,331.58 L199.78,332.95 L199.12,334.32 L198.47,335.69 L197.83,337.07 L197.19,338.45 L196.55,339.83 L195.92,341.21 L195.28,342.59 L194.65,343.97 L194.02,345.34 L193.39,346.72 L192.75,348.09 L192.12,349.46 L191.47,350.82 L190.83,352.18 L190.17,353.53 L189.50,354.88 L188.81,356.21 L188.09,357.54 L187.34,358.87 L186.56,360.18 L185.72,361.49 L184.84,362.78 L183.90,364.06 L182.90,365.29 L181.86,366.44 L180.76,367.46 L179.62,368.32 L178.43,368.99 L177.20,369.42 L175.93,369.58 L174.62,369.45 L173.30,369.05 L171.98,368.43 L170.68,367.64 L169.43,366.71 L168.23,365.67 L167.08,364.53 L165.98,363.32 L164.94,362.06 L163.96,360.77 L163.05,359.47 L162.18,358.17 L161.35,356.87 L160.54,355.57 L159.75,354.28 L158.94,353.00 L158.12,351.74 L157.27,350.51 L156.39,349.29 L155.49,348.10 L154.55,346.93 L153.59,345.79 L152.60,344.67 L151.58,343.57 L150.54,342.50 L149.47,341.45 L148.38,340.43 L147.26,339.44 L146.12,338.46 L144.96,337.52 L143.78,336.60 L142.57,335.71 L141.34,334.85 L140.10,334.01 L138.83,333.20 L137.55,332.42 L136.24,331.67 L134.92,330.94 L133.58,330.25 L132.23,329.58 L130.86,328.94 L129.47,328.34 L128.07,327.76 L126.66,327.22 L125.23,326.70 L123.79,326.22 L122.33,325.77 L120.87,325.35 L119.39,324.96 L117.91,324.60 L116.41,324.28 L114.90,323.99 L113.39,323.74" fill="none" stroke="#800000" stroke-width="2.6" stroke-linecap="round" stroke-linejoin="round"/>
<line x1="191.4" y1="208.2" x2="191.4" y2="365.8" stroke="#000" stroke-width="2.2" stroke-dasharray="6.6 5.95"/>
<line x1="154.5" y1="108.7" x2="172.1" y2="105.5" stroke="#000" stroke-width="2.3" stroke-linecap="round"/><path d="M179.0,104.3 L169.8,109.6 L172.1,105.5 L168.5,102.5 Z" fill="#000"/>
<line x1="289.1" y1="90.6" x2="275.5" y2="95.2" stroke="#000" stroke-width="2.3" stroke-linecap="round"/><path d="M268.9,97.4 L277.2,90.8 L275.5,95.2 L279.5,97.6 Z" fill="#000"/>
<line x1="241.0" y1="238.5" x2="255.7" y2="248.2" stroke="#000" stroke-width="2.3" stroke-linecap="round"/><path d="M261.5,252.0 L251.2,249.5 L255.7,248.2 L255.1,243.5 Z" fill="#000"/>
<line x1="225.6" y1="310.6" x2="216.6" y2="322.2" stroke="#000" stroke-width="2.3" stroke-linecap="round"/><path d="M212.3,327.7 L215.6,317.6 L216.6,322.2 L221.3,322.0 Z" fill="#000"/>
<line x1="196" y1="202.1" x2="211" y2="202.1" stroke="#c8101c" stroke-width="2.1"/>
<path d="M189.8,202.1 L199.6,198.5 L197.2,202.1 L199.6,205.7 Z" fill="#c8101c"/>
<path d="M217.1,202.1 L207.3,198.5 L209.7,202.1 L207.3,205.7 Z" fill="#c8101c"/>
<line x1="54.2" y1="141.5" x2="54.2" y2="184.7" stroke="#000" stroke-width="2.2"/>
<line x1="46.9" y1="141.5" x2="61.1" y2="141.5" stroke="#000" stroke-width="2.2"/>
<line x1="46.9" y1="184.7" x2="61.1" y2="184.7" stroke="#000" stroke-width="2.2"/>
<line x1="307.4" y1="82.7" x2="321.8" y2="82.7" stroke="#000" stroke-width="2.4"/>
<line x1="305.1" y1="290" x2="319" y2="290" stroke="#000" stroke-width="2.4"/>
<text x="54.0" y="34.6" font-size="20" fill="#000" stroke="#000" textLength="13.56" lengthAdjust="spacingAndGlyphs">C</text>
<text x="83.0" y="34.6" font-size="20" fill="#000" stroke="#000" textLength="29.57" lengthAdjust="spacingAndGlyphs">IrCl</text>
<text x="111.4" y="38.6" font-size="13.5" fill="#000" stroke="#000" textLength="6.88" lengthAdjust="spacingAndGlyphs">6</text>
<text x="119.2" y="28.6" font-size="13.5" fill="#000" stroke="#000" textLength="11.36" lengthAdjust="spacingAndGlyphs">2-</text>
<text x="126.6" y="105.3" font-size="19" fill="#000" stroke="#000" textLength="18.34" lengthAdjust="spacingAndGlyphs">C:</text>
<text x="254.2" y="127.8" font-size="19.5" fill="#000" stroke="#000" textLength="8.49" lengthAdjust="spacingAndGlyphs">x</text>
<text x="268.8" y="127.8" font-size="19.5" fill="#000" stroke="#000" textLength="20.19" lengthAdjust="spacingAndGlyphs">10</text>
<text x="64.2" y="170.9" font-size="19" fill="#000" stroke="#000" textLength="25.36" lengthAdjust="spacingAndGlyphs">1.0</text>
<text x="95.0" y="170.9" font-size="19" fill="#000" stroke="#000" textLength="29.94" lengthAdjust="spacingAndGlyphs">mA</text>
<text x="129.2" y="170.9" font-size="19" fill="#000" stroke="#000" textLength="24.06" lengthAdjust="spacingAndGlyphs">cm</text>
<text x="153.8" y="165.5" font-size="13" fill="#000" stroke="#000" textLength="11.37" lengthAdjust="spacingAndGlyphs">-2</text>
<text x="49.6" y="263.2" font-size="19.5" fill="#000" stroke="#000" textLength="124.8" lengthAdjust="spacingAndGlyphs">C / Sustainion:</text>
<text x="173.2" y="192.5" font-size="18.6" fill="#c8101c" stroke="#c8101c" textLength="22.84" lengthAdjust="spacingAndGlyphs">ΔE</text>
<text x="324.4" y="91.2" font-size="20.5" fill="#000" stroke="#000" textLength="11.64" lengthAdjust="spacingAndGlyphs">0</text>
<text x="322.8" y="298.2" font-size="20.5" fill="#000" stroke="#000" textLength="9.87" lengthAdjust="spacingAndGlyphs">0</text>
<text x="72.2" y="410.8" font-size="22" fill="#000" stroke="#000" textLength="29.58" lengthAdjust="spacingAndGlyphs">0.2</text>
<text x="122.2" y="410.8" font-size="22" fill="#000" stroke="#000" textLength="29.17" lengthAdjust="spacingAndGlyphs">0.4</text>
<text x="173.2" y="410.8" font-size="22" fill="#000" stroke="#000" textLength="30.18" lengthAdjust="spacingAndGlyphs">0.6</text>
<text x="224.2" y="410.8" font-size="22" fill="#000" stroke="#000" textLength="30.21" lengthAdjust="spacingAndGlyphs">0.8</text>
<text x="275.2" y="410.8" font-size="22" fill="#000" stroke="#000" textLength="29.12" lengthAdjust="spacingAndGlyphs">1.0</text>
<text x="103.6" y="445.5" font-size="22" fill="#000" stroke="#000" textLength="160.18" lengthAdjust="spacingAndGlyphs">E (V vs Ag/AgCl)</text>
<line x1="75.1" y1="21.6" x2="75.1" y2="38.4" stroke="#3a3a3a" stroke-width="1.5"/>
<text transform="translate(17.2,185.5) rotate(-90)" font-size="21.8" fill="#000" stroke="#000" text-anchor="middle" textLength="72.6" lengthAdjust="spacingAndGlyphs">Current</text>
</svg>
</body></html>
